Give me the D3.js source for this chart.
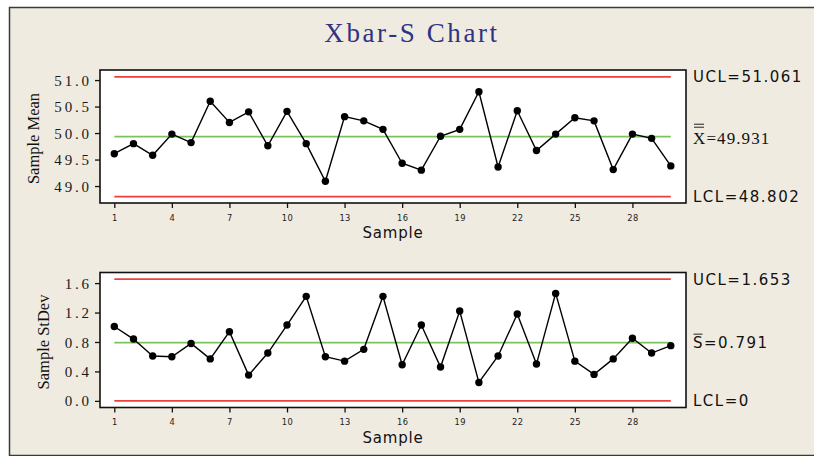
<!DOCTYPE html>
<html>
<head>
<meta charset="utf-8">
<script src="https://cdn.jsdelivr.net/npm/d3@7"></script>
<style>
  html, body { margin: 0; padding: 0; background: #ffffff; }
  svg { display: block; }
</style>
</head>
<body>
<svg id="chart" width="814" height="456"></svg>
<script>
// Subgroup numbers 1..30
const samples = d3.range(1, 31);

// Subgroup means
const sampleMeans = [
  49.61, 49.80, 49.58, 49.98, 49.82, 50.60, 50.20, 50.40, 49.76, 50.41,
  49.80, 49.09, 50.31, 50.23, 50.07, 49.43, 49.30, 49.94, 50.07, 50.78,
  49.36, 50.42, 49.67, 49.98, 50.29, 50.23, 49.31, 49.98, 49.90, 49.38
];

// Subgroup standard deviations
const sampleStDevs = [
  1.01, 0.84, 0.61, 0.60, 0.78, 0.57, 0.94, 0.35, 0.65, 1.03,
  1.42, 0.60, 0.54, 0.70, 1.42, 0.49, 1.03, 0.46, 1.22, 0.25,
  0.61, 1.18, 0.50, 1.46, 0.54, 0.36, 0.57, 0.85, 0.65, 0.75
];

// Control limits
const meanLimits = { ucl: 51.061, center: 49.931, lcl: 48.802 };
const sdLimits = { ucl: 1.653, center: 0.791, lcl: 0 };

// Tick values
const meanTicks = [49.0, 49.5, 50.0, 50.5, 51.0];
const sdTicks = [0.0, 0.4, 0.8, 1.2, 1.6];
const sampleTicks = [1, 4, 7, 10, 13, 16, 19, 22, 25, 28];

const svg = d3.select("#chart");
const W = 814, H = 456;

const SERIF = "'Liberation Serif', 'Times New Roman', serif";
const SANS = "'DejaVu Sans', Verdana, sans-serif";
const RED = "#ee3f3f";
const GREEN = "#7cc35c";

// Outer panel
svg.append("rect").attr("x", 0).attr("y", 0).attr("width", W).attr("height", H).attr("fill", "#ffffff");
svg.append("rect").attr("x", 9).attr("y", 7).attr("width", W - 9).attr("height", 448).attr("fill", "#efebe1");
svg.append("path")
  .attr("d", `M${W},7.5 H9.5 V455.5 H${W}`)
  .attr("fill", "none").attr("stroke", "#3a3a3a").attr("stroke-width", 1.5);

// Title
svg.append("text")
  .attr("x", 412).attr("y", 42)
  .attr("text-anchor", "middle")
  .style("font-family", SERIF).style("font-size", "27px")
  .style("letter-spacing", "2.6px")
  .attr("fill", "#2e3384")
  .text("Xbar-S Chart");

const plotLeft = 100, plotRight = 686;
const x = d3.scaleLinear().domain([1, 30]).range([114.3, 670.8]);

function panel(opts) {
  const { top, bottom, domain, values, limits, ticks, yTitle, yTitleX, fmt, labels } = opts;
  const y = d3.scaleLinear().domain(domain).range([bottom, top]);
  const g = svg.append("g");

  g.append("rect")
    .attr("x", plotLeft).attr("y", top)
    .attr("width", plotRight - plotLeft).attr("height", bottom - top)
    .attr("fill", "#ffffff");

  // Control limit lines
  const [x0, x1] = [x(1), x(30)];
  [["ucl", RED], ["lcl", RED], ["center", GREEN]].forEach(([k, c]) => {
    g.append("line")
      .attr("x1", x0).attr("x2", x1)
      .attr("y1", y(limits[k])).attr("y2", y(limits[k]))
      .attr("stroke", c).attr("stroke-width", 1.7);
  });

  // Data line and points
  const line = d3.line().x((d, i) => x(samples[i])).y(d => y(d));
  g.append("path").datum(values)
    .attr("d", line).attr("fill", "none")
    .attr("stroke", "#000").attr("stroke-width", 1.4);
  g.selectAll("circle.pt").data(values).join("circle")
    .attr("class", "pt")
    .attr("cx", (d, i) => x(samples[i])).attr("cy", d => y(d))
    .attr("r", 3.7).attr("fill", "#000");

  // Frame
  g.append("rect")
    .attr("x", plotLeft).attr("y", top)
    .attr("width", plotRight - plotLeft).attr("height", bottom - top)
    .attr("fill", "none").attr("stroke", "#111").attr("stroke-width", 1.6);

  // Y axis
  const ya = g.append("g").attr("transform", `translate(${plotLeft},0)`)
    .call(d3.axisLeft(y).tickValues(ticks).tickSize(5).tickPadding(6).tickFormat(fmt));
  ya.select(".domain").remove();
  ya.selectAll(".tick line").attr("stroke", "#111").attr("stroke-width", 1.3);
  ya.selectAll(".tick text")
    .style("font-family", SERIF).style("font-size", "15px")
    .style("letter-spacing", "2.8px").attr("fill", "#1a1a1a")
    .attr("dx", "2.8px")
    .attr("dy", "0.34em");

  // X axis
  const xa = g.append("g").attr("transform", `translate(0,${bottom})`)
    .call(d3.axisBottom(x).tickValues(sampleTicks).tickSize(5).tickPadding(7).tickFormat(d3.format("d")));
  xa.select(".domain").remove();
  xa.selectAll(".tick line").attr("stroke", "#111").attr("stroke-width", 1.3);
  xa.selectAll(".tick text")
    .style("font-family", SANS).style("font-size", "8.3px")
    .style("letter-spacing", "0.4px").attr("fill", "#222");

  // X title
  g.append("text")
    .attr("x", 393).attr("y", bottom + 35)
    .attr("text-anchor", "middle")
    .style("font-family", SANS).style("font-size", "15px")
    .style("letter-spacing", "0.8px").attr("fill", "#111")
    .text("Sample");

  // Y title
  g.append("text")
    .attr("transform", `translate(${yTitleX},${(top + bottom) / 2 + 2}) rotate(-90)`)
    .attr("text-anchor", "middle")
    .style("font-family", SERIF).style("font-size", "16.5px")
    .attr("fill", "#111")
    .text(yTitle);

  // Limit labels
  labels(g, y);
}

function sideLabel(g, yPos, txt, family, size, spacing) {
  return g.append("text")
    .attr("x", 693).attr("y", yPos).attr("dy", "0.36em")
    .style("font-family", family).style("font-size", size + "px")
    .style("letter-spacing", spacing + "px").attr("fill", "#111")
    .text(txt);
}

panel({
  top: 70, bottom: 203,
  domain: [48.68, 51.19],
  values: sampleMeans, limits: meanLimits, ticks: meanTicks,
  yTitle: "Sample Mean", yTitleX: 39,
  fmt: d3.format(".1f"),
  labels: (g, y) => {
    sideLabel(g, y(meanLimits.ucl), "UCL=" + meanLimits.ucl.toFixed(3), SANS, 15, 1.5);
    sideLabel(g, y(meanLimits.lcl), "LCL=" + meanLimits.lcl.toFixed(3), SANS, 15, 1.5);
    const cy = y(meanLimits.center);
    sideLabel(g, cy + 1, "X=" + meanLimits.center.toFixed(3), SERIF, 17, 1.1);
    // double bar over X
    [cy - 12.5, cy - 9.5].forEach(yy => {
      g.append("line").attr("x1", 694).attr("x2", 704)
        .attr("y1", yy).attr("y2", yy)
        .attr("stroke", "#222").attr("stroke-width", 1);
    });
  }
});

panel({
  top: 272.5, bottom: 407.5,
  domain: [-0.09, 1.744],
  values: sampleStDevs, limits: sdLimits, ticks: sdTicks,
  yTitle: "Sample StDev", yTitleX: 48.5,
  fmt: d3.format(".1f"),
  labels: (g, y) => {
    sideLabel(g, y(sdLimits.ucl), "UCL=" + sdLimits.ucl.toFixed(3), SANS, 15, 1.5);
    sideLabel(g, y(sdLimits.lcl), "LCL=" + sdLimits.lcl, SANS, 15, 1.5);
    const cy = y(sdLimits.center);
    sideLabel(g, cy, "S=" + sdLimits.center.toFixed(3), SANS, 15, 1.5);
    // bar over S
    g.append("line").attr("x1", 693.5).attr("x2", 702.5)
      .attr("y1", cy - 8.5).attr("y2", cy - 8.5)
      .attr("stroke", "#222").attr("stroke-width", 1);
  }
});
</script>
</body>
</html>
